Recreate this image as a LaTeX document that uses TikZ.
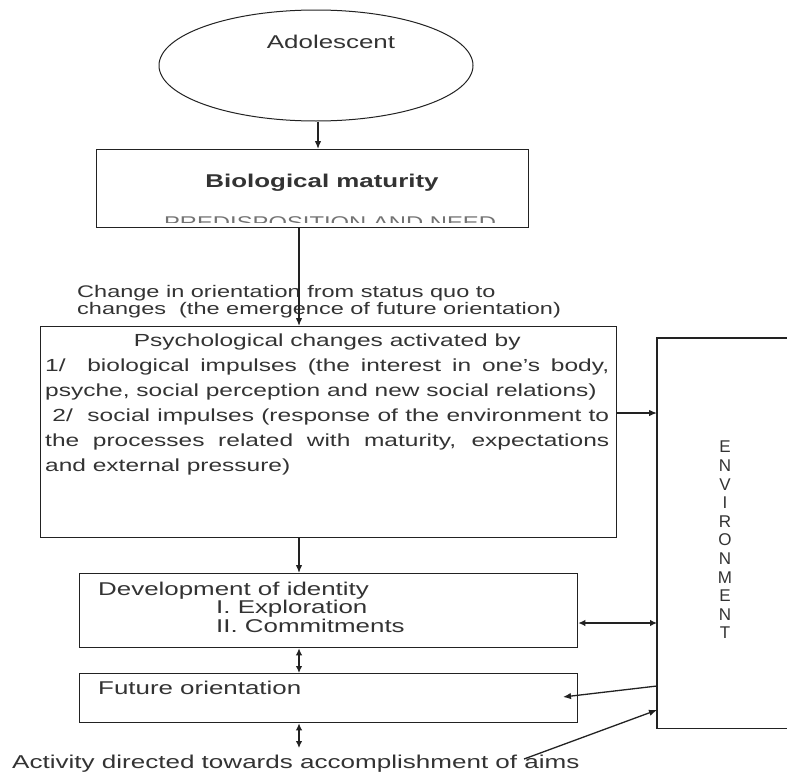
\documentclass[tikz,border=0pt]{standalone}
\usepackage{fontspec}
\setmainfont[FakeStretch=1.4]{Liberation Sans}
\newfontfamily\envfont{Liberation Sans}
\usetikzlibrary{arrows.meta,shapes.geometric}
\definecolor{ink}{HTML}{222222}
\definecolor{txtc}{HTML}{333333}
\begin{document}
\begin{tikzpicture}[x=1pt,y=-1pt,
  box/.style={draw=ink, line width=1.3pt, inner sep=0pt, anchor=north west},
  conn/.style={draw=ink, line width=1.3pt, -{Latex[length=8pt,width=6.5pt]}},
  dconn/.style={draw=ink, line width=1.3pt, {Latex[length=7pt,width=6.5pt]}-{Latex[length=7pt,width=6.5pt]}},
  txt/.style={text=txtc, inner sep=0pt}]
\useasboundingbox[fill=white] (0,0) rectangle (787,771);

% Adolescent
\node[ellipse, draw=ink, line width=1pt, minimum width=314pt, minimum height=111pt, inner sep=0pt] (ado) at (316,65.5) {};
\node[txt, font=\fontsize{18.5}{20}\selectfont] (adot) at (331,42) {Adolescent};

% Biological maturity
\node[box, minimum width=432pt, minimum height=78pt] (bio) at (96,149) {};
\node[txt, font=\fontsize{18.5}{20}\selectfont\bfseries] (biot) at (322,183) {Biological maturity};
\begin{scope}
  \clip (100,215) rectangle (520,222);
  \node[txt, text=black!55, font=\fontsize{17}{20}\selectfont, anchor=base] (biohid) at (330,228) {PREDISPOSITION AND NEED};
\end{scope}

% Psychological changes
\node[box, minimum width=576pt, minimum height=211pt] (psy) at (40,326) {};
\node[txt, anchor=north west, text width=564pt, align=justify, font=\fontsize{17.5}{25}\selectfont] (psyt) at (45,334)
{\makebox[\linewidth][c]{Psychological changes activated by}\par
1/~~biological impulses (the interest in one’s body,\linebreak
psyche, social perception and new social relations)\par
~2/~~social impulses (response of the environment to\linebreak
the processes related with maturity, expectations\linebreak
and external pressure)\par};

% connector label
\node[txt, anchor=north west, align=left, font=\fontsize{16.8}{17}\selectfont] (chg) at (77,285)
{Change in orientation from status quo to\\changes~~(the emergence of future orientation)};

% Environment
\node[inner sep=0pt, minimum width=140pt, minimum height=390pt, anchor=north west] (env) at (657,338) {};
\draw[ink, line width=1.3pt] (env.north east) -- (env.north west) -- (env.south west) -- (env.south east);
\node[txt, align=center, font=\envfont\fontsize{17}{18.6}\selectfont] (envt) at (725,540)
{E\\N\\V\\I\\R\\O\\N\\M\\E\\N\\T};

% Development of identity
\node[box, minimum width=498pt, minimum height=74pt] (dev) at (79,573) {};
\node[txt, anchor=north west, align=left, font=\fontsize{18.5}{18.5}\selectfont] (devt) at (98,581.5)
{Development of identity\\\hspace*{118pt}I. Exploration\\\hspace*{118pt}II. Commitments};

% Future orientation
\node[box, minimum width=498pt, minimum height=49pt] (fut) at (79,673) {};
\node[txt, anchor=base west, font=\fontsize{18.5}{20}\selectfont] (futt) at (98,694) {Future orientation};

% Activity
\node[txt, anchor=base west, font=\fontsize{18.6}{20}\selectfont] (act) at (12,768) {Activity directed towards accomplishment of aims};

% connectors
\draw[conn] (ado.south -| 318,0) -- (bio.north -| 318,0);
\draw[conn] (bio.south -| 299,0) -- (psy.north -| 299,0);
\draw[conn] (psy.east |- 0,413) -- (env.west |- 0,413);
\draw[conn] (psy.south -| 299,0) -- (dev.north -| 299,0);
\draw[dconn] (dev.east |- 0,623) -- (env.west |- 0,623);
\draw[dconn] (dev.south -| 299,0) -- (fut.north -| 299,0);
\coordinate (futtip) at (563,697);
\draw[conn] (env.west |- 0,686) -- (futtip);
\coordinate (actbot) at (299,748);
\draw[dconn] (fut.south -| 299,0) -- (actbot);
\coordinate (actstart) at (524,759);
\draw[conn] (actstart) -- (env.west |- 0,710);
\end{tikzpicture}
\end{document}
